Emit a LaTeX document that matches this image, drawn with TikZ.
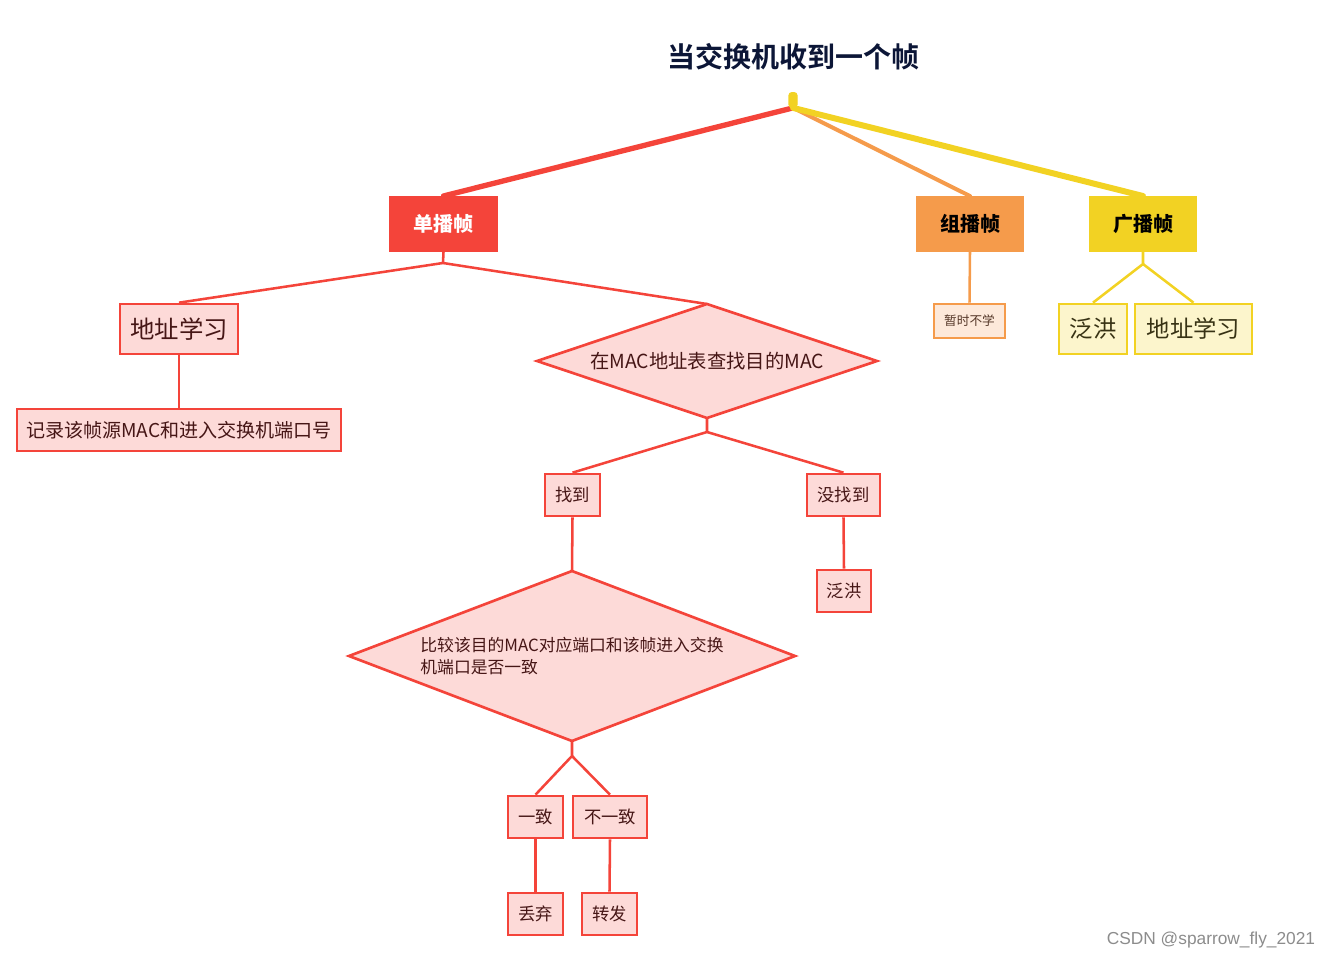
\documentclass[tikz,border=0pt]{standalone}
\usepackage{fontspec}
\setmainfont{Liberation Sans}
\newfontfamily\cjk{Noto Sans CJK SC}
\newfontfamily\cjkb{Noto Sans CJK SC}[BoldFont={* Bold}]
\usetikzlibrary{shapes.geometric,backgrounds}
\definecolor{cred}{RGB}{244,68,58}
\definecolor{lred}{RGB}{253,218,216}
\definecolor{corange}{RGB}{245,155,75}
\definecolor{lorange}{RGB}{253,233,218}
\definecolor{cyellow}{RGB}{242,210,35}
\definecolor{lyellow}{RGB}{252,245,204}
\definecolor{tred}{RGB}{70,22,22}
\definecolor{tnavy}{RGB}{12,22,55}
\definecolor{tolive}{RGB}{55,50,20}
\definecolor{torange}{RGB}{85,55,40}
\tikzset{
  box/.style={rectangle, inner sep=0pt, line width=2pt, font=\cjk, align=center},
  redbox/.style={box, draw=cred, fill=lred, text=tred},
  topbox/.style={rectangle, inner sep=0pt, line width=1.5pt, minimum height=40.5pt, font=\cjk\bfseries\fontsize{15pt}{18pt}\selectfont},
  decide/.style={diamond, inner sep=0pt, outer sep=0pt, line width=2pt, draw=cred, fill=lred},
  dtext/.style={inner sep=0pt, text=tred, font=\cjk},
  tline/.style={draw=cred, line width=1.9pt, line join=round},
  smallbox/.style={redbox, minimum width=41.25pt, minimum height=31.5pt, font=\cjk\fontsize{13pt}{15pt}\selectfont},
}
\begin{document}
\begin{tikzpicture}[x=0.75pt,y=-0.75pt]
\useasboundingbox (0,0) rectangle (1340,960);
% title
\node[font=\cjkb\bfseries\fontsize{21pt}{24pt}\selectfont, text=tnavy] (title) at (793,57) {当交换机收到一个帧};
% root
\node[rectangle, rounded corners=2pt, fill=cyellow, draw=cyellow, line width=0.8pt, minimum width=6pt, minimum height=11pt, inner sep=0pt] (root) at (793,100) {};
% level 1
\node[topbox, fill=cred, draw=cred, text=white, minimum width=80.25pt] (uni) at (443.5,224) {单播帧};
\node[topbox, fill=corange, draw=corange, text=black, minimum width=79.5pt] (multi) at (970,224) {组播帧};
\node[topbox, fill=cyellow, draw=cyellow, text=black, minimum width=79.5pt] (broad) at (1143,224) {广播帧};
% unicast subtree
\node[redbox, minimum width=88.5pt, minimum height=37.5pt, font=\cjk\fontsize{18.3pt}{21pt}\selectfont] (addr1) at (179,329) {地址学习};
\node[redbox, minimum width=243pt, minimum height=31.5pt, font=\cjk\fontsize{14.3pt}{16pt}\selectfont] (rec) at (179,430) {记录该帧源MAC和进入交换机端口号};
\node[decide, minimum width=255pt, minimum height=85.5pt] (d1) at (707,361) {};
\node[dtext, font=\cjk\fontsize{14.5pt}{17pt}\selectfont] (d1t) at (d1.center) {在MAC地址表查找目的MAC};
\node[smallbox] (found) at (572.5,495) {找到};
\node[smallbox, minimum width=54.75pt] (notfound) at (843.5,495) {没找到};
\node[smallbox, minimum width=40.5pt] (flood1) at (844,591) {泛洪};
\node[decide, minimum width=334.5pt, minimum height=127.5pt] (d2) at (572,656) {};
\node[dtext, align=left, font=\cjk\fontsize{12.6pt}{16.5pt}\selectfont] (d2t) at (d2.center) {比较该目的MAC对应端口和该帧进入交换\\机端口是否一致};
\node[smallbox] (same) at (535.5,817) {一致};
\node[smallbox, minimum width=55.5pt] (diff) at (610,817) {不一致};
\node[smallbox] (drop) at (535.5,914) {丢弃};
\node[smallbox] (fwd) at (609.5,914) {转发};
% multicast / broadcast subtrees
\node[box, draw=corange, fill=lorange, text=torange, minimum width=53.25pt, minimum height=25.5pt, font=\cjk\fontsize{9.5pt}{11pt}\selectfont] (tmp) at (969.5,321) {暂时不学};
\node[box, draw=cyellow, fill=lyellow, text=tolive, minimum width=51pt, minimum height=37.5pt, font=\cjk\fontsize{17.5pt}{20pt}\selectfont] (flood2) at (1093,329) {泛洪};
\node[box, draw=cyellow, fill=lyellow, text=tolive, minimum width=87.75pt, minimum height=37.5pt, font=\cjk\fontsize{17.5pt}{20pt}\selectfont] (addr2) at (1193.5,329) {地址学习};
% junctions
\coordinate (j1) at (443,263);
\coordinate (j2) at (707,432);
\coordinate (j3) at (572,756);
\coordinate (j4) at (1143,264);
% watermark
\node[font=\fontsize{13pt}{15pt}\selectfont, text=black!45] (wm) at (1211,940) {CSDN @sparrow\_fly\_2021};
\begin{scope}[on background layer]
\draw[draw=cred, line width=4pt, line cap=round] (root.south) -- (uni.north);
\draw[draw=corange, line width=3pt, line cap=round] (root.south) -- (multi.north);
\draw[draw=cyellow, line width=4.5pt, line cap=round] (root.south) -- (broad.north);
\draw[tline] (uni.south) -- (j1) -- (addr1.north);
\draw[tline] (j1) -- (d1.north);
\draw[tline] (addr1.south) -- (rec.north);
\draw[tline] (d1.south) -- (j2) -- (found.north);
\draw[tline] (j2) -- (notfound.north);
\draw[tline] (notfound.south) -- (flood1.north);
\draw[tline] (found.south) -- (d2.north);
\draw[tline] (d2.south) -- (j3) -- (same.north);
\draw[tline] (j3) -- (diff.north);
\draw[tline] (same.south) -- (drop.north);
\draw[tline] (diff.south) -- (fwd.north);
\draw[draw=corange, line width=1.9pt] (multi.south) -- (tmp.north);
\draw[draw=cyellow, line width=1.9pt, line join=round] (broad.south) -- (j4) -- (flood2.north);
\draw[draw=cyellow, line width=1.9pt] (j4) -- (addr2.north);
\end{scope}
\end{tikzpicture}
\end{document}
